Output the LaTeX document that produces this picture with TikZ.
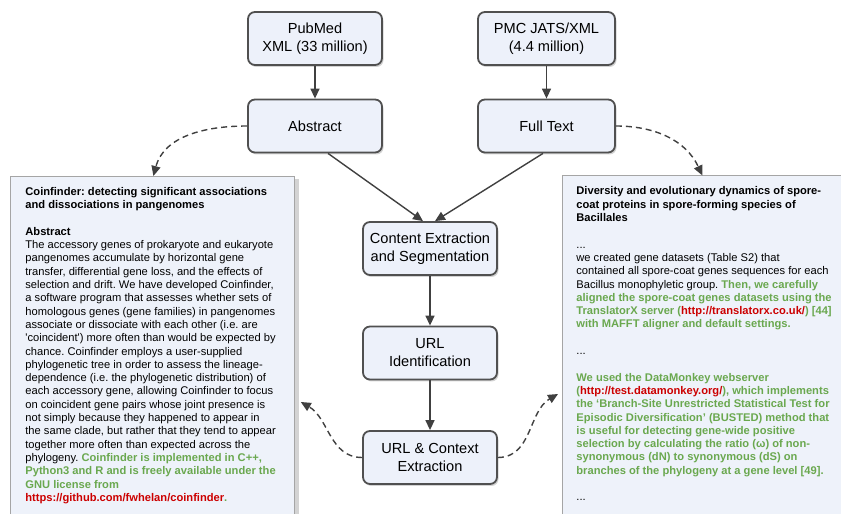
\documentclass[tikz,border=0pt]{standalone}
\usepackage{fontspec}
\setmainfont{Liberation Sans}
\usepackage{xcolor}
\usetikzlibrary{calc,arrows.meta,shadows}

\definecolor{boxfill}{RGB}{237,241,250}
\definecolor{boxline}{RGB}{80,80,80}
\definecolor{panelfill}{RGB}{238,242,250}
\definecolor{panelline}{RGB}{165,165,165}
\definecolor{hlgreen}{RGB}{106,168,79}
\definecolor{hlred}{RGB}{204,0,0}
\definecolor{arrowgray}{RGB}{64,64,64}

\newcommand{\greenbf}[1]{\textcolor{hlgreen}{\textbf{#1}}}
\newcommand{\redbf}[1]{\textcolor{hlred}{\textbf{#1}}}

\begin{document}
\begin{tikzpicture}[x=1pt, y=1pt,
  stagebox/.style={draw=boxline, line width=1.8pt, fill=boxfill, rounded corners=7pt,
    minimum width=134pt, minimum height=53pt, align=center, inner sep=2pt,
    font=\fontsize{14.6}{18}\selectfont,
    drop shadow={shadow xshift=1.5pt, shadow yshift=-2pt, opacity=.35}},
  panel/.style={draw=panelline, line width=.8pt, fill=panelfill, inner ysep=11pt,
    font=\fontsize{11.15}{13.3}\selectfont,
    drop shadow={shadow xshift=5pt, shadow yshift=-3pt, opacity=.35}},
  flow/.style={draw=arrowgray, line width=1.4pt, -{Triangle[length=10pt,width=9pt]}},
  link/.style={flow, dash pattern=on 6pt off 4pt},
]

\useasboundingbox (0,0) rectangle (841,514);
\clip (0,0) rectangle (841,514);

% text panels
\node[panel, inner xsep=15pt, anchor=north west] (coinpanel) at (10,338) {%
\begin{minipage}[t][330pt][t]{254pt}
\raggedright\frenchspacing
\textbf{Coinfinder: detecting significant associations}\\
\textbf{and dissociations in pangenomes}\\[\baselineskip]
\textbf{Abstract}\\
The accessory genes of prokaryote and eukaryote\\
pangenomes accumulate by horizontal gene\\
transfer, differential gene loss, and the effects of\\
selection and drift. We have developed Coinfinder,\\
a software program that assesses whether sets of\\
homologous genes (gene families) in pangenomes\\
associate or dissociate with each other (i.e. are\\
\textquotesingle coincident\textquotesingle) more often than would be expected by\\
chance. Coinfinder employs a user-supplied\\
phylogenetic tree in order to assess the lineage-\\
dependence (i.e. the phylogenetic distribution) of\\
each accessory gene, allowing Coinfinder to focus\\
on coincident gene pairs whose joint presence is\\
not simply because they happened to appear in\\
the same clade, but rather that they tend to appear\\
together more often than expected across the\\
phylogeny. \greenbf{Coinfinder is implemented in C++,}\\
\greenbf{Python3 and R and is freely available under the}\\
\greenbf{GNU license from}\\
\redbf{https://github.com/fwhelan/coinfinder}\greenbf{.}
\end{minipage}};

\node[panel, inner xsep=14pt, anchor=north west] (divpanel) at (562,338.5) {%
\begin{minipage}[t][330pt][t]{262pt}
\raggedright\frenchspacing
\textbf{Diversity and evolutionary dynamics of spore-}\\
\textbf{coat proteins in spore-forming species of}\\
\textbf{Bacillales}\\[\baselineskip]
...\\
we created gene datasets (Table S2) that\\
contained all spore-coat genes sequences for each\\
Bacillus monophyletic group. \greenbf{Then, we carefully}\\
\greenbf{aligned the spore-coat genes datasets using the}\\
\greenbf{TranslatorX server (}\redbf{http://translatorx.co.uk/}\greenbf{) [44]}\\
\greenbf{with MAFFT aligner and default settings.}\\[\baselineskip]
...\\[\baselineskip]
\greenbf{We used the DataMonkey webserver}\\
\greenbf{(}\redbf{http://test.datamonkey.org/}\greenbf{), which implements}\\
\greenbf{the `Branch-Site Unrestricted Statistical Test for}\\
\greenbf{Episodic Diversification' (BUSTED) method that}\\
\greenbf{is useful for detecting gene-wide positive}\\
\greenbf{selection by calculating the ratio (ω) of non-}\\
\greenbf{synonymous (dN) to synonymous (dS) on}\\
\greenbf{branches of the phylogeny at a gene level [49].}\\[\baselineskip]
...
\end{minipage}};

% pipeline
\node[stagebox] (pubmed) at (315,475.5) {PubMed\\XML (33 million)};
\node[stagebox, minimum width=137pt] (pmc) at (546.5,475.5) {PMC JATS/XML\\(4.4 million)};
\node[stagebox] (abstract) at (315,388) {Abstract};
\node[stagebox, minimum width=137pt] (fulltext) at (546.5,388) {Full Text};
\node[stagebox] (content) at (430,265.5) {Content Extraction\\and Segmentation};
\node[stagebox] (urlid) at (430,161) {URL\\Identification};
\node[stagebox] (urlctx) at (430,56.5) {URL \& Context\\Extraction};

\draw[flow] (pubmed) -- (abstract);
\draw[flow] (pmc) -- (fulltext);
\draw[flow] ([xshift=13pt]abstract.south) -- ([xshift=-7pt]content.north);
\draw[flow] ([xshift=-3.5pt]fulltext.south) -- ([xshift=5pt]content.north);
\draw[flow] (content) -- (urlid);
\draw[flow] (urlid) -- (urlctx);

% links to the examples
\draw[link] (abstract.west) to[out=180, in=75] ([xshift=1pt]coinpanel.north);
\draw[link] (fulltext.east) to[out=0, in=115] ([xshift=-5pt]divpanel.north);
\draw[link] (urlctx.west) to[out=180, in=-30] ($(coinpanel.north east)+(6,-226)$);
\draw[link] (urlctx.east) to[out=0, in=210] ($(divpanel.north west)+(-4,-218.5)$);

\end{tikzpicture}
\end{document}
